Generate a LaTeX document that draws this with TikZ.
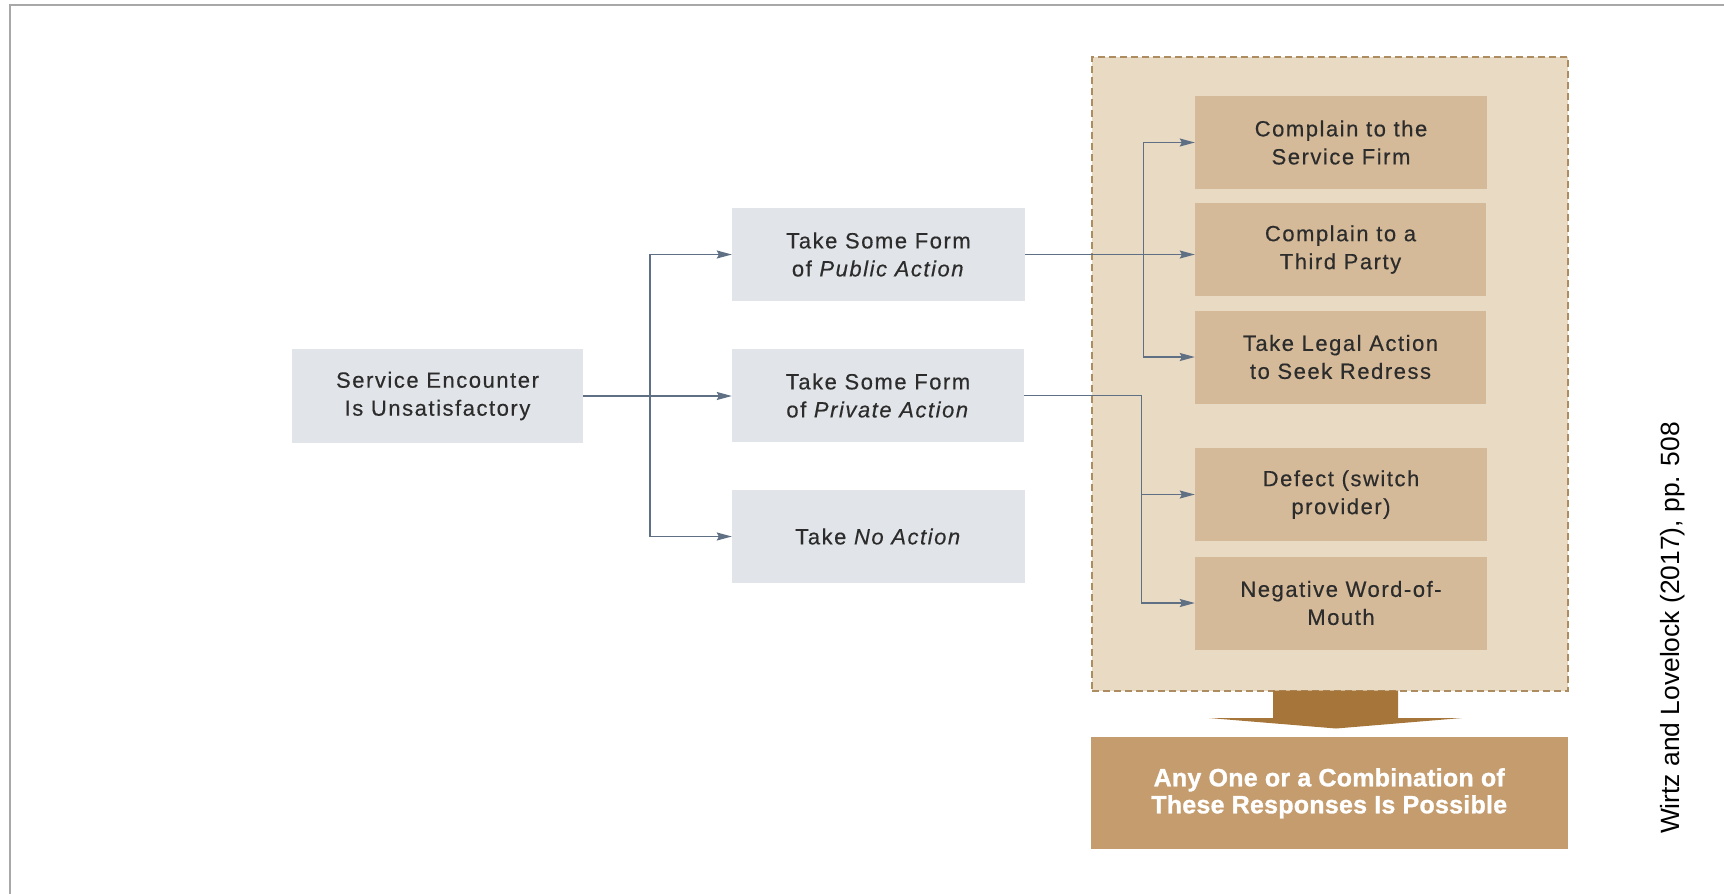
\documentclass[tikz,border=0pt]{standalone}
\usepackage{fontspec}
\setmainfont{Liberation Sans}
\newfontfamily\boxfont[LetterSpace=7, FakeBold=0.4]{Liberation Sans}
\newfontfamily\resfont[LetterSpace=1, BoldFeatures={FakeBold=1.2}]{Liberation Sans}
\usetikzlibrary{arrows.meta}

\definecolor{boxgray}{HTML}{E1E4E8}
\definecolor{boxtan}{HTML}{D4BA98}
\definecolor{panel}{HTML}{E9DAC4}
\definecolor{panelline}{HTML}{AE8C62}
\definecolor{shaft}{HTML}{A6753A}
\definecolor{result}{HTML}{C49C6E}
\definecolor{conncol}{HTML}{5F7084}
\definecolor{txt}{HTML}{2C2C2C}
\definecolor{frame}{HTML}{A8A8A8}

\tikzset{
  labelbox/.style={minimum width=292, minimum height=93, inner sep=0pt,
    align=center, text=txt, font=\boxfont\fontsize{22}{28}\selectfont},
  graybox/.style={labelbox, fill=boxgray},
  tanbox/.style={labelbox, fill=boxtan},
  wire/.style={draw=conncol, line width=1.3pt},
  conn/.style={wire, -{Stealth[length=15pt, width=8pt, inset=2pt]}},
}

\begin{document}
\begin{tikzpicture}[x=1pt, y=-1pt]
\useasboundingbox (0,0) rectangle (1724,894);

% page frame
\draw[frame, line width=2pt] (1724,5.2) -- (10.3,5.2) -- (10.3,894);

% dashed panel holding the possible responses
\node[draw=panelline, fill=panel, line width=1.2pt, dash pattern=on 7pt off 4pt,
      minimum width=476, minimum height=634, inner sep=0pt] (panel) at (1330,374) {};

% left column
\node[graybox, minimum width=291, minimum height=94] (service) at (437.5,396)
  {Service Encounter\\Is Unsatisfactory};

% middle column
\node[graybox, minimum width=293] (public) at (878.5,254.5)
  {Take Some Form\\of \textit{Public Action}};
\node[graybox] (private) at (878,395.5)
  {Take Some Form\\of \textit{Private Action}};
\node[graybox, minimum width=293] (noaction) at (878.5,536.5)
  {Take \textit{No Action}};

% right column
\node[tanbox] (firm) at (1341,142.5) {Complain to the\\Service Firm};
\node[tanbox, minimum width=291] (third) at (1340.5,249.5) {Complain to a\\Third Party};
\node[tanbox, minimum width=291] (legal) at (1340.5,357) {Take Legal Action\\to Seek Redress};
\node[tanbox] (defect) at (1341,494.5) {Defect (switch\\provider)};
\node[tanbox] (wom) at (1341,603) {Negative Word-of-\\Mouth};

% result box
\node[fill=result, minimum width=477, minimum height=112, inner sep=0pt, align=center,
      text=white, font=\resfont\bfseries\fontsize{25}{27}\selectfont] (combo) at (1329.2,793.3)
  {Any One or a Combination of\\These Responses Is Possible};

% broad arrow from the panel to the result box
\fill[shaft] (1273,690.5) -- (1398,690.5) -- (1398,718) -- (1462,718) -- (1336,728.5)
  -- (1209,718) -- (1273,718) -- cycle;

% connectors from the first box
\coordinate (j1) at (650,396);
\draw[conn] (service.east) -- (service.east -| private.west);
\draw[conn] (j1) |- (public.west);
\draw[conn] (j1) |- (noaction.west);

% connectors for public action
\coordinate (j2) at (1143.5,254.5);
\draw[conn] (public.east) -- (public.east -| third.west);
\draw[conn] (j2) |- (firm.west);
\draw[conn] (j2) |- (legal.west);

% connectors for private action
\coordinate (j3) at (1141.5,395.5);
\draw[wire] (private.east) -- (j3);
\draw[conn] (j3) |- (defect.west);
\draw[conn] (j3) |- (wom.west);

% source note
\node[rotate=90, font=\fontsize{26.4}{30}\selectfont, text=black] (source) at (1673,628)
  {Wirtz and Lovelock (2017), pp. 508};
\end{tikzpicture}
\end{document}
